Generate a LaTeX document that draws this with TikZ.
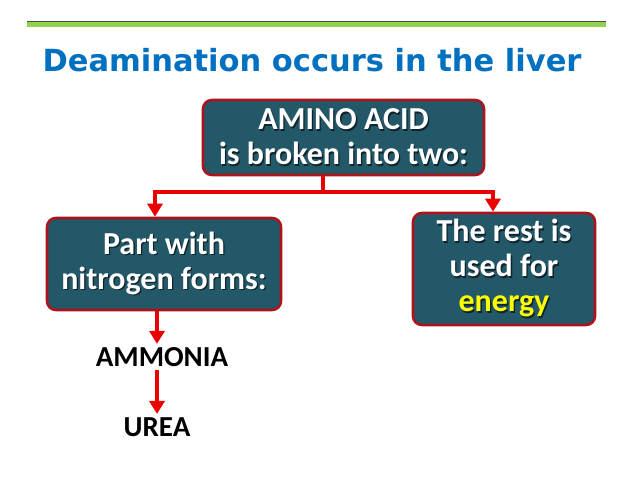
\documentclass[tikz,border=0pt]{standalone}
\usepackage{fontspec}
\setmainfont{Carlito}
\newfontfamily\titlefont{DejaVu Sans}
\usetikzlibrary{arrows.meta}
\definecolor{boxfill}{RGB}{35,88,104}
\definecolor{boxedge}{RGB}{170,20,30}
\definecolor{arrowred}{RGB}{235,0,0}
\definecolor{titleblue}{RGB}{0,112,192}
\definecolor{rulegreen}{RGB}{146,208,80}
\definecolor{energyyellow}{RGB}{255,255,0}
\definecolor{shadowcol}{RGB}{15,35,42}
\newcommand\shd[1]{\leavevmode\rlap{\hspace{1.3pt}\raisebox{-1.3pt}{\textcolor{shadowcol}{#1}}}#1}
\tikzset{
  x=1pt, y=-1pt,
  box/.style={draw=boxedge, line width=2.6pt, fill=boxfill, rounded corners=9pt,
    text=white, font=\bfseries\fontsize{32}{35}\selectfont, align=center, inner sep=0pt},
  conn/.style={draw=arrowred, line width=3.5pt},
  arr/.style={conn, -{Triangle[width=15pt,length=13pt]}},
  plain/.style={font=\bfseries\fontsize{29}{32}\selectfont, text=black}
}
\begin{document}
\begin{tikzpicture}
\useasboundingbox (0,0) rectangle (638,479);
\fill[white] (0,0) rectangle (638,479);
% header rule
\fill[rulegreen] (27,21.5) rectangle (606,26.5);
\draw[black!70, line width=0.8pt] (27,21.5) -- (606,21.5);
% title
\node[text=titleblue, font=\titlefont\bfseries\fontsize{30.5}{34}\selectfont] (title) at (312,60) {Deamination occurs in the liver};
% boxes
\node[box, minimum width=281pt, minimum height=75pt] (amino) at (343.5,137.5) {\shd{AMINO ACID}\\\shd{is broken into two:}};
\node[box, minimum width=234pt, minimum height=92pt] (part) at (164,264) {\shd{Part with}\\\shd{nitrogen forms:}};
\node[box, minimum width=182pt, minimum height=112pt] (rest) at (504,269) {\shd{The rest is}\\\shd{used for}\\\textcolor{energyyellow}{\shd{energy}}};
\node[plain] (ammonia) at (162,357) {AMMONIA};
\node[plain] (urea) at (157,427) {UREA};
% connectors
\coordinate (split) at (323,192);
\draw[conn] (amino.south -| split) -- (split);
\draw[arr] (split) -- (155,192) -- (part.north -| 155,0);
\draw[arr] (split) -- (493,192) -- (rest.north -| 493,0);
\draw[arr] (part.south -| 157,0) -- (ammonia.north -| 157,0);
\draw[arr] (ammonia.south -| 157,0) -- (urea.north -| 157,0);
\end{tikzpicture}
\end{document}
